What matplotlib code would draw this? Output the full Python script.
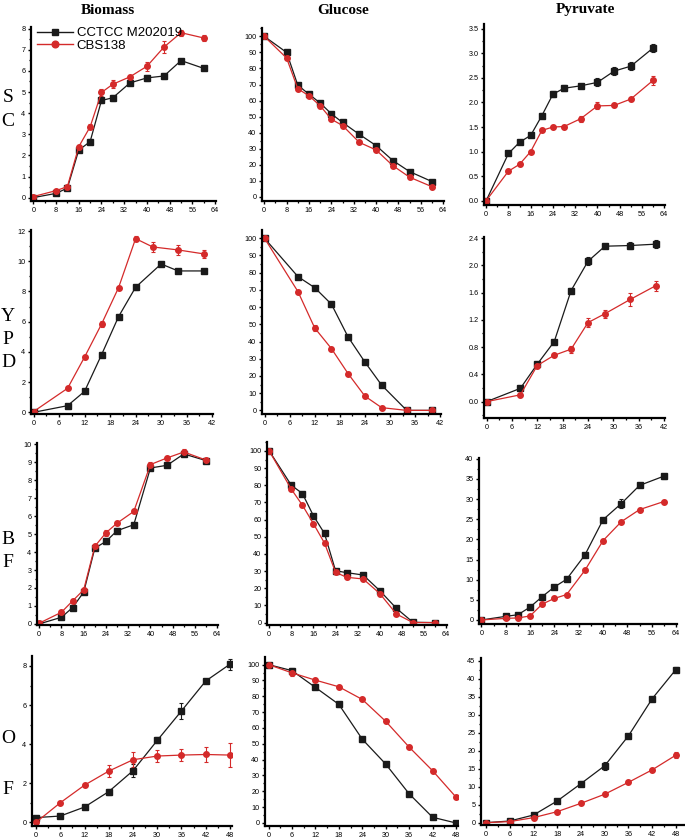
import numpy as np
import matplotlib
matplotlib.use('Agg')
import matplotlib.pyplot as plt
from matplotlib.ticker import MultipleLocator
from matplotlib.lines import Line2D

# sampling times (h)
t_sc = [0, 8, 12, 16, 20, 24, 28, 34, 40, 46, 52, 60]
t_ypd = [0, 8, 12, 16, 20, 24, 28, 34, 40]
t_ypd_bio_k = [0, 8, 12, 16, 20, 24, 30, 34, 40]
t_bf = [0, 8, 12, 16, 20, 24, 28, 34, 40, 46, 52, 60]
t_of = [0, 6, 12, 18, 24, 30, 36, 42, 48]

# k = CCTCC M202019 (black), r = CBS138 (red)
sc_bio_k = [0.0, 0.2, 0.45, 2.25, 2.65, 4.6, 4.73, 5.43, 5.67, 5.76, 6.49, 6.12]
sc_bio_k_err = [0.03, 0.05, 0.05, 0.1, 0.12, 0.12, 0.15, 0.08, 0.15, 0.15, 0.08, 0.06]
sc_bio_r = [0.05, 0.33, 0.52, 2.41, 3.35, 4.98, 5.37, 5.72, 6.22, 7.13, 7.81, 7.56]
sc_bio_r_err = [0.03, 0.05, 0.06, 0.08, 0.12, 0.15, 0.18, 0.1, 0.22, 0.28, 0.15, 0.15]

sc_glc_k = [100, 90, 69.6, 64, 58.5, 51.8, 46.4, 39, 32, 22.7, 15.8, 9.6]
sc_glc_k_err = [0.5, 0.8, 0.8, 0.8, 0.8, 1.0, 0.8, 0.8, 0.8, 0.8, 0.8, 0.8]
sc_glc_r = [100, 86.5, 67.4, 63, 56.8, 48.4, 44.5, 34, 29.3, 19.5, 12.3, 6.4]
sc_glc_r_err = [0.8, 0.8, 0.8, 0.8, 1.5, 0.8, 0.8, 0.8, 0.8, 0.8, 0.8, 0.8]

sc_pyr_k = [0, 0.96, 1.19, 1.33, 1.73, 2.17, 2.29, 2.34, 2.41, 2.64, 2.74, 3.11]
sc_pyr_k_err = [0.02, 0.02, 0.03, 0.04, 0.05, 0.06, 0.06, 0.04, 0.08, 0.08, 0.08, 0.08]
sc_pyr_r = [0, 0.6, 0.74, 1.0, 1.43, 1.5, 1.51, 1.67, 1.93, 1.94, 2.07, 2.45]
sc_pyr_r_err = [0.02, 0.02, 0.03, 0.03, 0.04, 0.03, 0.04, 0.06, 0.07, 0.04, 0.03, 0.1]

ypd_bio_k = [0, 0.44, 1.39, 3.82, 6.34, 8.28, 9.82, 9.36, 9.36]
ypd_bio_k_err = [0.02, 0.05, 0.08, 0.15, 0.08, 0.15, 0.15, 0.1, 0.15]
ypd_bio_r = [0.05, 1.59, 3.66, 5.85, 8.26, 11.5, 10.95, 10.75, 10.49]
ypd_bio_r_err = [0.03, 0.08, 0.1, 0.18, 0.12, 0.15, 0.35, 0.35, 0.25]

ypd_glc_k = [100, 77.7, 71.3, 61.7, 42.6, 28.1, 14.7, 0, 0]
ypd_glc_k_err = [0.5, 0.8, 0.8, 1.5, 0.8, 0.8, 0.8, 0.3, 0.3]
ypd_glc_r = [100, 69, 47.9, 35.9, 21.3, 8.3, 1.6, 0, 0]
ypd_glc_r_err = [0.5, 1.0, 1.5, 1.0, 1.0, 1.0, 0.8, 0.5, 0.5]

ypd_pyr_k = [0, 0.195, 0.55, 0.88, 1.63, 2.06, 2.28, 2.29, 2.31]
ypd_pyr_k_err = [0.01, 0.01, 0.02, 0.02, 0.04, 0.06, 0.02, 0.05, 0.06]
ypd_pyr_r = [0, 0.1, 0.53, 0.68, 0.77, 1.16, 1.29, 1.5, 1.7]
ypd_pyr_r_err = [0.01, 0.01, 0.03, 0.02, 0.05, 0.07, 0.06, 0.1, 0.07]

bf_bio_k = [0, 0.37, 0.91, 1.77, 4.22, 4.59, 5.19, 5.52, 8.68, 8.83, 9.46, 9.09]
bf_bio_k_err = [0.02, 0.05, 0.07, 0.08, 0.1, 0.15, 0.15, 0.1, 0.1, 0.1, 0.1, 0.06]
bf_bio_r = [0.04, 0.65, 1.28, 1.9, 4.32, 5.07, 5.61, 6.26, 8.87, 9.24, 9.57, 9.12]
bf_bio_r_err = [0.03, 0.08, 0.08, 0.1, 0.1, 0.15, 0.1, 0.1, 0.15, 0.1, 0.15, 0.06]

bf_glc_k = [100, 80, 75.2, 62.2, 51.9, 30.2, 29.1, 27.7, 18.6, 8.3, 0.2, 0]
bf_glc_k_err = [0.5, 0.8, 0.8, 0.8, 0.8, 0.8, 0.8, 0.8, 0.8, 0.8, 0.5, 0.5]
bf_glc_r = [100, 77.7, 68.4, 57.6, 46.3, 29.3, 26.4, 25.4, 16.9, 5, 0, 0]
bf_glc_r_err = [0.5, 1.0, 1.2, 1.2, 1.0, 0.8, 0.8, 0.8, 1.0, 0.8, 0.5, 0.5]

bf_pyr_k = [0, 0.9, 1.3, 3.2, 5.8, 8.2, 10.1, 16.1, 24.9, 28.9, 33.4, 35.7]
bf_pyr_k_err = [0.2, 0.2, 0.2, 0.2, 0.2, 0.2, 0.2, 0.3, 0.3, 1.2, 0.3, 0.6]
bf_pyr_r = [0, 0.4, 0.5, 1.0, 3.95, 5.35, 6.3, 12.3, 19.7, 24.4, 27.4, 29.4]
bf_pyr_r_err = [0.2, 0.2, 0.2, 0.2, 0.2, 0.2, 0.2, 0.2, 0.3, 0.3, 0.3, 0.3]

of_bio_k = [0.24, 0.32, 0.78, 1.57, 2.64, 4.19, 5.7, 7.23, 8.09]
of_bio_k_err = [0.08, 0.05, 0.1, 0.15, 0.32, 0.15, 0.42, 0.08, 0.28]
of_bio_r = [0.0, 1.0, 1.9, 2.62, 3.2, 3.39, 3.44, 3.47, 3.44]
of_bio_r_err = [0.03, 0.05, 0.06, 0.3, 0.38, 0.3, 0.3, 0.4, 0.6]

of_glc_k = [100, 96.2, 85.6, 74.9, 52.9, 37.2, 18.4, 3.6, 0]
of_glc_k_err = [0.5, 1.5, 1.2, 1.8, 1.5, 1.5, 0.8, 0.8, 0.5]
of_glc_r = [100, 94.8, 90.2, 86, 78, 64.2, 47.9, 33, 16.3]
of_glc_r_err = [0.5, 2.0, 1.0, 0.8, 0.8, 0.8, 0.8, 0.8, 0.8]

of_pyr_k = [0, 0.46, 2.13, 6.03, 10.85, 15.8, 24.1, 34.4, 42.5]
of_pyr_k_err = [0.2, 0.2, 0.3, 0.3, 0.6, 1.1, 0.3, 0.6, 0.8]
of_pyr_r = [0, 0.3, 1.4, 3.06, 5.38, 7.9, 11.2, 14.66, 18.74]
of_pyr_r_err = [0.2, 0.2, 0.3, 0.2, 0.2, 0.2, 0.2, 0.3, 0.8]

strains = ['CCTCC M202019', 'CBS138']
col_titles = ['Biomass', 'Glucose', 'Pyruvate']
row_letters = [('S', 97), ('C', 122), ('Y', 316), ('P', 339), ('D', 362),
               ('B', 539), ('F', 562), ('O', 738), ('F', 789)]

BLACK = '#1a1a1a'
RED = '#d42a2a'

W, H = 685, 838
fig = plt.figure(figsize=(W / 100, H / 100), dpi=100)
tick_font = ['Liberation Sans Narrow', 'Liberation Sans']


def box(l, r, t, b):
    return [l / W, 1 - b / H, (r - l) / W, (b - t) / H]


def panel(pos, tk, k, ke, tr, r, re, xlim, xmaj, ylim, ymaj):
    ax = fig.add_axes(box(*pos))
    ax.errorbar(tk, k, yerr=ke, color=BLACK, marker='s', ms=3.8, lw=0.9,
                elinewidth=0.8, capsize=1.6, capthick=0.8)
    ax.errorbar(tr, r, yerr=re, color=RED, marker='o', ms=4.0, lw=0.9,
                elinewidth=0.8, capsize=1.6, capthick=0.8)
    ax.set_xlim(*xlim)
    ax.set_ylim(*ylim)
    ax.xaxis.set_major_locator(MultipleLocator(xmaj))
    ax.xaxis.set_minor_locator(MultipleLocator(xmaj / 2))
    ax.yaxis.set_major_locator(MultipleLocator(ymaj))
    ax.yaxis.set_minor_locator(MultipleLocator(ymaj / 2))
    for s in ['top', 'right']:
        ax.spines[s].set_visible(False)
    for s in ['left', 'bottom']:
        ax.spines[s].set_linewidth(1.6)
    ax.tick_params(which='major', length=2.5, width=1.0, labelsize=5.2, pad=1.5, direction='out')
    ax.tick_params(which='minor', length=1.4, width=0.9, direction='out')
    for lab in ax.get_xticklabels() + ax.get_yticklabels():
        lab.set_family(tick_font)
    return ax


ax = panel((31, 216, 27, 201), t_sc, sc_bio_k, sc_bio_k_err, t_sc, sc_bio_r, sc_bio_r_err,
           (-0.8, 64.3), 8, (-0.16, 8.08), 1)
handles = [Line2D([], [], color=BLACK, marker='s', ms=4.5, lw=1.0),
           Line2D([], [], color=RED, marker='o', ms=4.8, lw=1.0)]
ax.legend(handles, strains, loc='upper left', bbox_to_anchor=(0.005, 1.03), frameon=False,
          handlelength=2.7, handletextpad=0.3, labelspacing=0.0, borderaxespad=0,
          prop={'family': 'Liberation Sans', 'size': 9.5})
panel((262, 444, 28, 201), t_sc, sc_glc_k, sc_glc_k_err, t_sc, sc_glc_r, sc_glc_r_err,
      (-0.8, 64.3), 8, (-2.5, 105.2), 10)
panel((484, 665, 24, 205), t_sc, sc_pyr_k, sc_pyr_k_err, t_sc, sc_pyr_r, sc_pyr_r_err,
      (-0.8, 64.3), 8, (-0.09, 3.6), 0.5)

panel((31, 213, 230, 414), t_ypd_bio_k, ypd_bio_k, ypd_bio_k_err, t_ypd, ypd_bio_r, ypd_bio_r_err,
      (-0.6, 42.2), 6, (-0.11, 12.07), 2)
panel((262, 441, 230, 414), t_ypd, ypd_glc_k, ypd_glc_k_err, t_ypd, ypd_glc_r, ypd_glc_r_err,
      (-0.6, 42.2), 6, (-2.1, 104.8), 10)
panel((484, 665, 237, 418), t_ypd, ypd_pyr_k, ypd_pyr_k_err, t_ypd, ypd_pyr_r, ypd_pyr_r_err,
      (-0.6, 42.2), 6, (-0.24, 2.415), 0.4)

panel((37, 218, 443, 625), t_bf, bf_bio_k, bf_bio_k_err, t_bf, bf_bio_r, bf_bio_r_err,
      (-0.8, 64.3), 8, (-0.06, 10.07), 1)
panel((267, 447, 442, 625), t_bf, bf_glc_k, bf_glc_k_err, t_bf, bf_glc_r, bf_glc_r_err,
      (-0.8, 64.3), 8, (-1.4, 105.2), 10)
panel((479, 677, 458, 624), t_bf, bf_pyr_k, bf_pyr_k_err, t_bf, bf_pyr_r, bf_pyr_r_err,
      (-0.8, 64.3), 8, (-1.0, 40.2), 5)

panel((32, 232, 656, 826), t_of, of_bio_k, of_bio_k_err, t_of, of_bio_r, of_bio_r_err,
      (-1.0, 48.5), 6, (-0.19, 8.51), 2)
panel((265, 458, 657, 826), t_of, of_glc_k, of_glc_k_err, t_of, of_glc_r, of_glc_r_err,
      (-0.9, 48.5), 6, (-1.9, 104.8), 10)
panel((481, 685, 658, 825), t_of, of_pyr_k, of_pyr_k_err, t_of, of_pyr_r, of_pyr_r_err,
      (-1.3, 50.3), 6, (-0.65, 45.7), 5)

# column headers
for x, txt in zip([108, 343, 585], col_titles):
    fig.text(x / W, 1 - 10 / H, txt, ha='center', va='center', fontsize=11,
             fontweight='bold', family='Liberation Serif')

# row labels, one letter each
for txt, y in row_letters:
    fig.text(8 / W, 1 - y / H, txt, ha='center', va='center', fontsize=14,
             family='Liberation Serif')

fig.savefig('out.png', dpi=100)
